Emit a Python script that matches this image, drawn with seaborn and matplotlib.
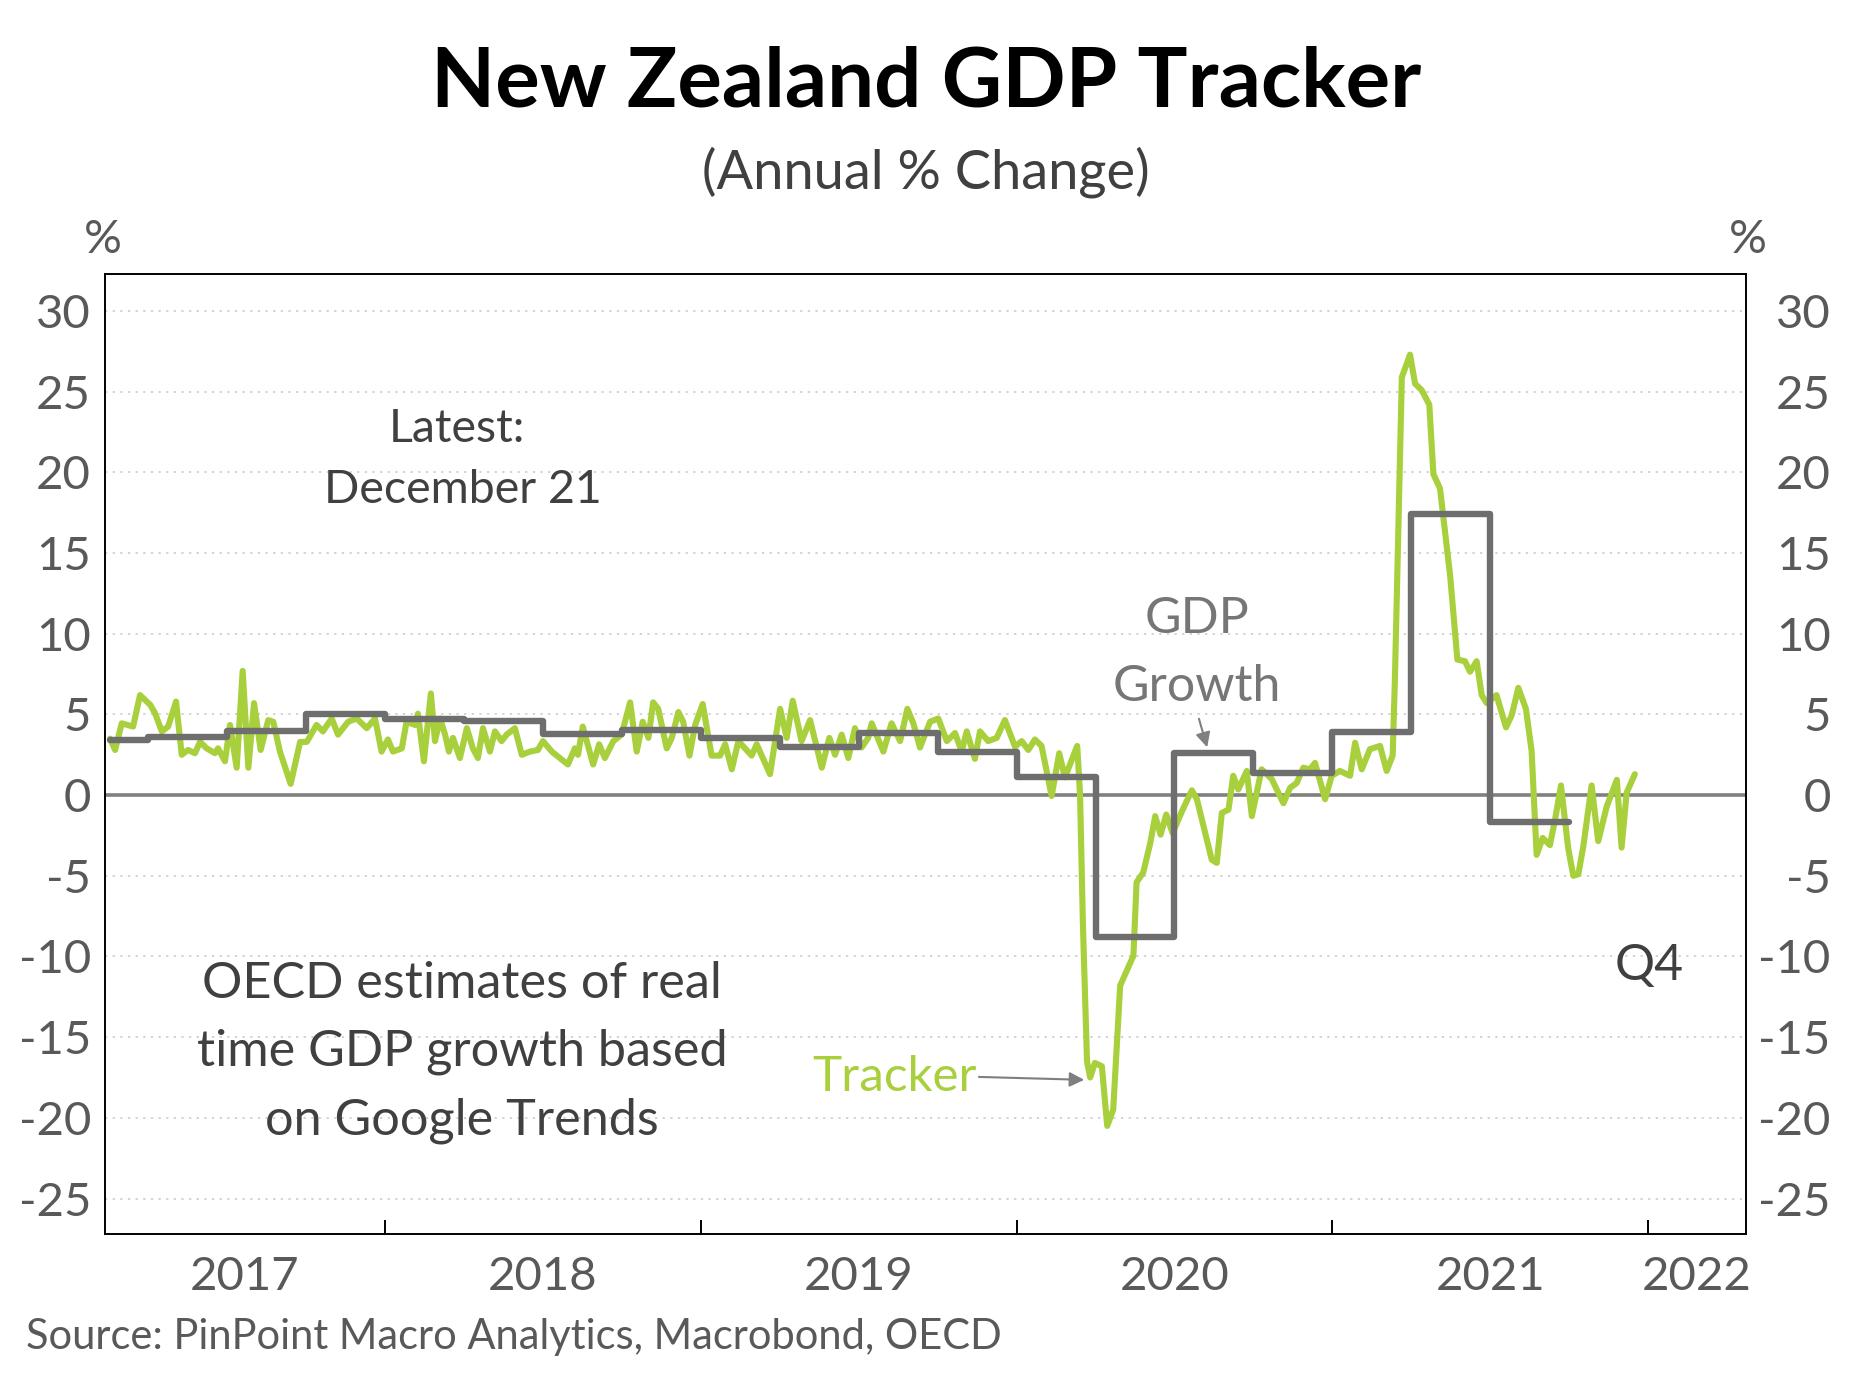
import matplotlib
matplotlib.use("Agg")
import matplotlib.pyplot as plt
import seaborn as sns
import numpy as np

# ---------------- data ----------------
tracker_year = [
    2017.129, 2017.145, 2017.166, 2017.202, 2017.224, 2017.256, 2017.271, 2017.293, 2017.313, 2017.338,
    2017.356, 2017.376, 2017.398, 2017.414, 2017.435, 2017.461, 2017.471, 2017.493, 2017.509, 2017.530,
    2017.549, 2017.567, 2017.585, 2017.606, 2017.630, 2017.646, 2017.667, 2017.701, 2017.731, 2017.752,
    2017.783, 2017.803, 2017.831, 2017.851, 2017.883, 2017.910, 2017.942, 2017.968, 2017.989, 2018.009,
    2018.025, 2018.053, 2018.068, 2018.095, 2018.104, 2018.123, 2018.145, 2018.158, 2018.174, 2018.190,
    2018.202, 2018.215, 2018.237, 2018.259, 2018.278, 2018.294, 2018.310, 2018.332, 2018.348, 2018.369,
    2018.385, 2018.411, 2018.433, 2018.459, 2018.484, 2018.500, 2018.528, 2018.579, 2018.601, 2018.611,
    2018.626, 2018.659, 2018.678, 2018.696, 2018.723, 2018.749, 2018.776, 2018.797, 2018.816, 2018.834,
    2018.849, 2018.865, 2018.892, 2018.908, 2018.929, 2018.944, 2018.964, 2018.982, 2019.006, 2019.034,
    2019.061, 2019.077, 2019.098, 2019.119, 2019.161, 2019.177, 2019.219, 2019.251, 2019.272, 2019.291,
    2019.319, 2019.346, 2019.383, 2019.407, 2019.425, 2019.446, 2019.467, 2019.488, 2019.509, 2019.530,
    2019.541, 2019.578, 2019.604, 2019.631, 2019.654, 2019.673, 2019.694, 2019.726, 2019.752, 2019.779,
    2019.805, 2019.826, 2019.842, 2019.868, 2019.884, 2019.910, 2019.937, 2019.963, 2019.995, 2020.016,
    2020.037, 2020.058, 2020.079, 2020.111, 2020.135, 2020.153, 2020.192, 2020.201, 2020.210, 2020.223,
    2020.233, 2020.248, 2020.270, 2020.287, 2020.306, 2020.328, 2020.370, 2020.380, 2020.401, 2020.423,
    2020.439, 2020.456, 2020.474, 2020.494, 2020.526, 2020.555, 2020.571, 2020.618, 2020.634, 2020.650,
    2020.671, 2020.686, 2020.702, 2020.729, 2020.745, 2020.776, 2020.808, 2020.845, 2020.866, 2020.887,
    2020.908, 2020.929, 2020.945, 2020.977, 2020.998, 2021.024, 2021.056, 2021.072, 2021.093, 2021.119,
    2021.151, 2021.172, 2021.191, 2021.198, 2021.220, 2021.246, 2021.262, 2021.283, 2021.307, 2021.320,
    2021.341, 2021.373, 2021.396, 2021.420, 2021.436, 2021.457, 2021.473, 2021.489, 2021.520, 2021.550,
    2021.568, 2021.589, 2021.613, 2021.631, 2021.647, 2021.666, 2021.689, 2021.705, 2021.724, 2021.747,
    2021.763, 2021.779, 2021.795, 2021.821, 2021.842, 2021.869, 2021.901, 2021.916, 2021.932, 2021.958,
]
tracker_value = [
    3.5, 2.8, 4.45, 4.25, 6.2, 5.6, 5.1, 3.95, 4.25, 5.8,
    2.5, 2.8, 2.6, 3.3, 2.9, 2.6, 2.9, 2.1, 4.35, 1.7,
    7.7, 1.7, 5.7, 2.8, 4.65, 4.55, 2.7, 0.7, 3.3, 3.3,
    4.35, 3.95, 4.75, 3.75, 4.55, 4.75, 4.15, 4.75, 2.7, 3.45,
    2.7, 2.9, 4.55, 4.35, 5.05, 2.1, 6.3, 3.35, 4.75, 3.75,
    2.7, 3.55, 2.3, 4.15, 2.9, 2.3, 4.15, 2.7, 3.95, 3.35,
    3.75, 4.15, 2.5, 2.7, 2.8, 3.35, 2.7, 1.9, 2.9, 2.5,
    4.25, 1.9, 3.15, 2.3, 3.35, 3.75, 5.75, 2.7, 4.55, 3.55,
    5.75, 5.35, 2.9, 3.55, 5.15, 4.55, 2.45, 4.35, 5.65, 2.45,
    2.45, 3.15, 1.6, 3.35, 2.45, 3.15, 1.3, 5.35, 3.55, 5.85,
    3.35, 4.65, 1.7, 3.55, 2.5, 3.75, 2.3, 4.15, 2.95, 3.55,
    4.45, 2.7, 4.45, 3.35, 5.35, 4.45, 2.95, 4.55, 4.75, 3.35,
    3.85, 2.7, 3.95, 2.25, 3.95, 3.35, 3.55, 4.65, 3.0, 3.35,
    2.8, 3.45, 3.05, -0.05, 2.6, 1.1, 3.05, 0.0, -8.0, -16.5,
    -17.5, -16.6, -16.8, -20.5, -19.5, -11.8, -9.95, -5.4, -4.8, -3.0,
    -1.3, -2.45, -1.2, -2.35, -0.9, 0.3, -0.25, -4.0, -4.2, -1.1,
    -0.9, 1.2, 0.35, 1.5, -1.3, 1.6, 1.0, -0.5, 0.45, 0.75,
    1.7, 1.6, 2.0, -0.25, 1.2, 1.5, 1.2, 3.25, 1.6, 2.85,
    3.05, 1.5, 2.45, 7.1, 25.9, 27.3, 25.5, 25.1, 24.2, 19.9,
    19.0, 13.6, 8.4, 8.3, 7.65, 8.3, 6.2, 5.7, 6.2, 4.2,
    4.95, 6.65, 5.35, 2.75, -3.7, -2.65, -3.1, -1.55, 0.6, -3.3,
    -5.0, -4.9, -3.15, 0.6, -2.85, -0.7, 0.95, -3.25, 0.15, 1.3,
]

gdp_quarters = ["2017Q1", "2017Q2", "2017Q3", "2017Q4", "2018Q1", "2018Q2", "2018Q3", "2018Q4",
                "2019Q1", "2019Q2", "2019Q3", "2019Q4", "2020Q1", "2020Q2", "2020Q3", "2020Q4",
                "2021Q1", "2021Q2", "2021Q3"]
gdp_values = [3.44, 3.58, 3.95, 5.06, 4.72, 4.6, 3.8, 4.05,
              3.56, 2.98, 3.85, 2.68, 1.1, -8.8, 2.6, 1.35,
              3.9, 17.45, -1.65]

y_ticks = [-25, -20, -15, -10, -5, 0, 5, 10, 15, 20, 25, 30]
year_labels = ["2017", "2018", "2019", "2020", "2021", "2022"]

# ---------------- style ----------------
sns.set_theme(style="white")
plt.rcParams["font.family"] = ["Lato", "DejaVu Sans"]
plt.rcParams["axes.unicode_minus"] = False

GREEN = "#A8CF3C"
GREY_LINE = "#6E6E6E"
TXT = "#404040"
TICK_TXT = "#595959"

fig = plt.figure(figsize=(18.52, 13.89), dpi=100)
ax = fig.add_axes([105 / 1852, 1 - 1234 / 1389, (1746 - 105) / 1852, (1234 - 274) / 1389])

x_min, x_max = 2017.113, 2022.31
y_min, y_max = -27.2, 32.3

# quarter -> decimal-year start
def q_start(q):
    return int(q[:4]) + (int(q[-1]) - 1) / 4.0

gx = [max(q_start(q), tracker_year[0]) for q in gdp_quarters]
gy = list(gdp_values)
gx.append(q_start(gdp_quarters[-1]) + 0.25)
gy.append(gdp_values[-1])

ax.axhline(0, color="#808080", lw=2.6, zorder=1.5)
sns.lineplot(x=tracker_year, y=tracker_value, ax=ax, color=GREEN, lw=4.4,
             estimator=None, sort=False, zorder=2)
sns.lineplot(x=gx, y=gy, ax=ax, color=GREY_LINE, lw=4.6, drawstyle="steps-post",
             estimator=None, sort=False, zorder=3)

ax.set_xlim(x_min, x_max)
ax.set_ylim(y_min, y_max)
ax.set_xlabel("")
ax.set_ylabel("")

# grid
ax.set_yticks(y_ticks)
ax.yaxis.grid(True, color="#C8C8C8", linestyle=(0, (1.5, 3.5)), lw=1.1)
ax.xaxis.grid(False)

for s in ax.spines.values():
    s.set_visible(True)
    s.set_color("black")
    s.set_linewidth(1.4)

ax.tick_params(axis="y", which="both", length=0, pad=10, labelsize=34, labelcolor=TICK_TXT)

# x ticks: major at year boundaries (inward), labels centred on visible years
major = [2018, 2019, 2020, 2021, 2022]
ax.set_xticks(major)
ax.set_xticklabels([""] * len(major))
bounds = [x_min] + major + [x_max]
centres = [(bounds[i] + bounds[i + 1]) / 2 for i in range(len(bounds) - 1)]
ax.set_xticks(centres, minor=True)
ax.set_xticklabels(year_labels, minor=True)
ax.tick_params(axis="x", which="major", direction="in", length=10, width=1.4, color="black", bottom=True)
ax.tick_params(axis="x", which="minor", length=0, pad=16, labelsize=34, labelcolor=TICK_TXT, bottom=True)

# right axis labels
ax2 = ax.twinx()
ax2.set_ylim(y_min, y_max)
ax2.set_yticks(y_ticks)
ax2.set_yticklabels([str(v) for v in y_ticks])
ax2.tick_params(axis="y", length=0, pad=61, labelsize=34, labelcolor=TICK_TXT)
for lab in ax2.get_yticklabels():
    lab.set_horizontalalignment("right")
ax2.grid(False)
for s in ax2.spines.values():
    s.set_visible(False)

# titles
fig.text(0.5, 1 - 83 / 1389, "New Zealand GDP Tracker", ha="center", va="center",
         fontsize=60, fontweight="bold", color="black")
fig.text(0.5, 1 - 172 / 1389, "(Annual % Change)", ha="center", va="center",
         fontsize=39, color=TXT)
fig.text(103 / 1852, 1 - 240 / 1389, "%", ha="center", va="center", fontsize=34, color=TICK_TXT)
fig.text(1748 / 1852, 1 - 240 / 1389, "%", ha="center", va="center", fontsize=34, color=TICK_TXT)
fig.text(26 / 1852, 1 - 1337 / 1389, "Source: PinPoint Macro Analytics, Macrobond, OECD",
         ha="left", va="center", fontsize=30, color=TICK_TXT)

# annotations
ax.text(2018.228, 22.7, "Latest:", ha="center", va="center", fontsize=33.5, color=TXT)
ax.text(2018.247, 18.9, "December 21", ha="center", va="center", fontsize=33.5, color=TXT)
ax.text(2018.244, -15.95, "OECD estimates of real\ntime GDP growth based\non Google Trends",
        ha="center", va="center", fontsize=36.3, color=TXT, linespacing=1.59)
ax.text(2020.571, 8.8, "GDP\nGrowth", ha="center", va="center", fontsize=36,
        color="#767676", linespacing=1.59)
ax.annotate("", xy=(2020.606, 2.8), xytext=(2020.575, 4.9),
            arrowprops=dict(arrowstyle="-|>", color="#7F7F7F", lw=1.5, mutation_scale=22))
ax.text(2019.612, -17.5, "Tracker", ha="center", va="center", fontsize=35.6, color=GREEN)
ax.annotate("", xy=(2020.223, -17.65), xytext=(2019.872, -17.46),
            arrowprops=dict(arrowstyle="-|>", color="#7F7F7F", lw=1.5, mutation_scale=22))
ax.text(2022.003, -10.6, "Q4", ha="center", va="center", fontsize=36, color=TXT)

fig.savefig("out.png", dpi=100)
